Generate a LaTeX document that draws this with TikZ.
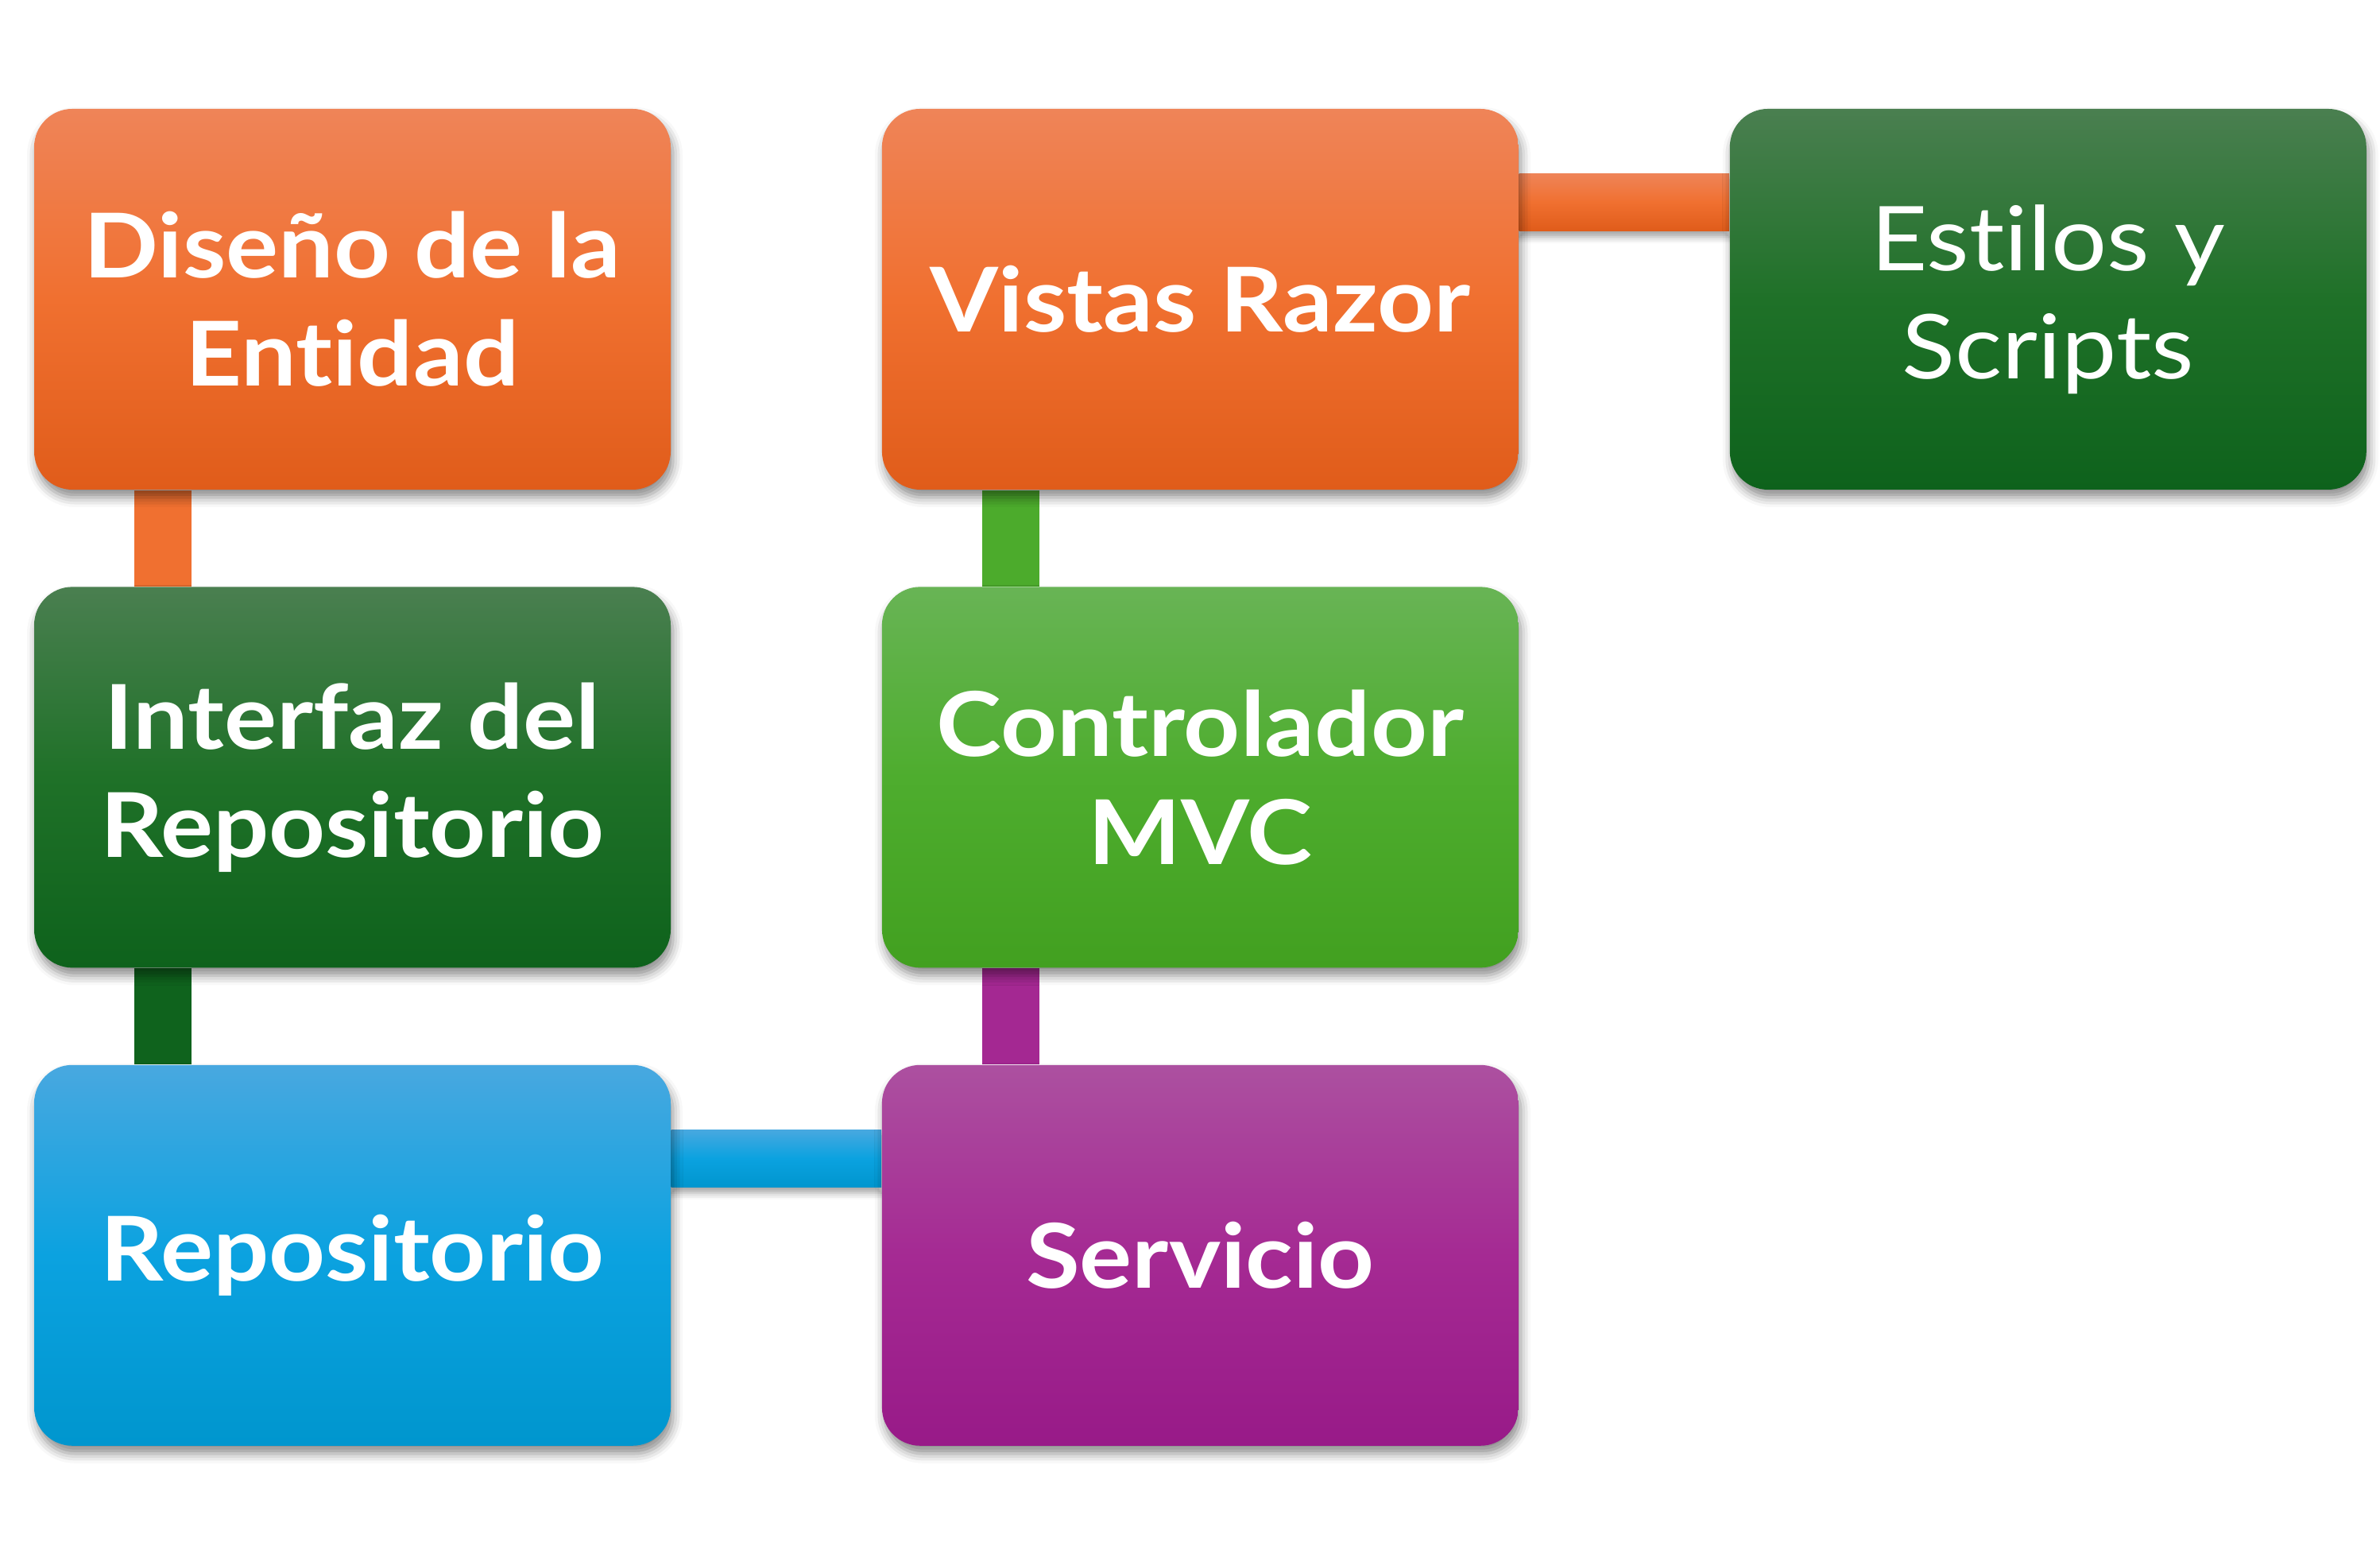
\documentclass[tikz,border=0pt]{standalone}
\usepackage{fontspec}
\setmainfont{Lato}[Ligatures=NoCommon, FakeStretch=1.1]
\usetikzlibrary{positioning,shadows.blur,backgrounds}

\definecolor{naranjaA}{HTML}{EF8458}
\definecolor{naranjaB}{HTML}{F07030}
\definecolor{naranjaC}{HTML}{E05C1A}
\definecolor{verdeoscA}{HTML}{4A7F50}
\definecolor{verdeoscB}{HTML}{1F7128}
\definecolor{verdeoscC}{HTML}{0E621C}
\definecolor{verdeclA}{HTML}{68B455}
\definecolor{verdeclB}{HTML}{4EAD2E}
\definecolor{verdeclC}{HTML}{42A020}
\definecolor{azulA}{HTML}{48A8E0}
\definecolor{azulB}{HTML}{0BA2E0}
\definecolor{azulC}{HTML}{0096CE}
\definecolor{moradoA}{HTML}{AC50A0}
\definecolor{moradoB}{HTML}{A52A93}
\definecolor{moradoC}{HTML}{981A88}

\tikzset{
  paso/.style={rectangle, rounded corners=0.48cm, minimum width=8.01cm, minimum height=4.79cm,
    text=white, align=center, font=\fontsize{32}{38.7}\selectfont\bfseries,
    blur shadow={shadow xshift=0.03cm, shadow yshift=-0.1cm, shadow blur radius=0.12cm, shadow opacity=45}},
  naranja/.style={paso, top color=naranjaA, bottom color=naranjaC, middle color=naranjaB},
  verdeosc/.style={paso, top color=verdeoscA, bottom color=verdeoscC, middle color=verdeoscB},
  verdecl/.style={paso, top color=verdeclA, bottom color=verdeclC, middle color=verdeclB},
  azul/.style={paso, top color=azulA, bottom color=azulC, middle color=azulB},
  morado/.style={paso, top color=moradoA, bottom color=moradoC, middle color=moradoB},
  conector/.style={blur shadow={shadow xshift=0cm, shadow yshift=-0.08cm, shadow blur radius=0.08cm, shadow opacity=35}}
}

\begin{document}
\begin{tikzpicture}[node distance=1.21cm and 2.645cm]
  \useasboundingbox (0,0) rectangle (29.95,19.55);

  \node[naranja] (diseno) at (4.435,15.785) {Diseño de la\\Entidad};
  \node[verdeosc, below=of diseno] (interfaz) {Interfaz del\\Repositorio};
  \node[azul, below=of interfaz] (repo) {Repositorio};
  \node[morado, right=of repo] (servicio) {Servicio};
  \node[verdecl, above=of servicio] (controlador) {Controlador\\MVC};
  \node[naranja, above=of controlador] (vistas) {Vistas Razor};
  \node[verdeosc, right=of vistas, font=\fontsize{32}{38.7}\selectfont] (estilos) {Estilos y\\Scripts};

  % uniones detras de las cajas
  \begin{scope}[on background layer]
    \fill[naranjaB] ([xshift=1.27cm]diseno.south west) rectangle ([xshift=1.99cm]interfaz.north west);
    \fill[verdeoscC!95!verdeoscB] ([xshift=1.27cm]interfaz.south west) rectangle ([xshift=1.99cm]repo.north west);
    \shade[conector, top color=azulA, bottom color=azulC, middle color=azulB] ([yshift=-0.82cm]repo.north east) rectangle ([yshift=-1.54cm]servicio.north west);
    \fill[moradoB!90!moradoC] ([xshift=1.27cm]servicio.north west) rectangle ([xshift=1.99cm]controlador.south west);
    \fill[verdeclB!85!verdeclC] ([xshift=1.27cm]controlador.north west) rectangle ([xshift=1.99cm]vistas.south west);
    \shade[conector, top color=naranjaA, bottom color=naranjaC, middle color=naranjaB] ([yshift=-0.82cm]vistas.north east) rectangle ([yshift=-1.54cm]estilos.north west);
  \end{scope}
\end{tikzpicture}
\end{document}
